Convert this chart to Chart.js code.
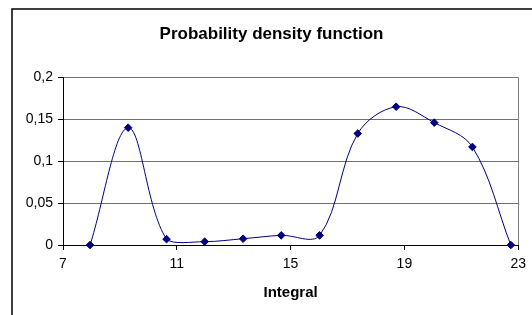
<!DOCTYPE html>
<html><head><meta charset="utf-8">
<script src="https://cdn.jsdelivr.net/npm/chart.js@4/dist/chart.umd.min.js"></script>
<style>html,body{margin:0;padding:0;background:#fff;overflow:hidden}#wrap{width:532px;height:315px;position:relative}</style>
</head><body><div id="wrap"><canvas id="c" width="532" height="315"></canvas></div>
<script>
const integralValues = [7.95, 9.29, 10.64, 11.98, 13.33, 14.67, 16.02, 17.36, 18.71, 20.05, 21.39, 22.74];
const densityValues = [0, 0.14, 0.007, 0.004, 0.0075, 0.0115, 0.0115, 0.133, 0.165, 0.146, 0.117, 0];
const xTickValues = [7, 11, 15, 19, 23];
const yTickValues = [0, 0.05, 0.1, 0.15, 0.2];
const yTickLabels = ['0', '0,05', '0,1', '0,15', '0,2'];
const chartTitle = 'Probability density function';
const xAxisTitle = 'Integral';

const FONT = "'Liberation Sans', Arial, sans-serif";
const framePlugin = {
  id: 'frame',
  beforeDraw(chart) {
    const ctx = chart.ctx;
    ctx.save();
    ctx.fillStyle = '#fff';
    ctx.fillRect(0, 0, chart.width, chart.height);
    ctx.restore();
  },
  afterDraw(chart) {
    const ctx = chart.ctx, a = chart.chartArea;
    ctx.save();
    ctx.strokeStyle = '#808080';
    ctx.lineWidth = 1;
    ctx.beginPath();
    ctx.moveTo(Math.round(a.right) + 0.5, a.top);
    ctx.lineTo(Math.round(a.right) + 0.5, a.bottom);
    ctx.stroke();
    ctx.strokeStyle = '#000';
    ctx.lineWidth = 1.5;
    ctx.beginPath();
    ctx.moveTo(12, 400);
    ctx.lineTo(12, 9);
    ctx.lineTo(600, 9);
    ctx.stroke();
    ctx.restore();
  }
};

new Chart(document.getElementById('c'), {
  type: 'scatter',
  data: {
    datasets: [{
      data: integralValues.map((x, i) => ({ x: x, y: densityValues[i] })),
      showLine: true,
      tension: 0.35,
      borderColor: '#000080',
      borderWidth: 1,
      backgroundColor: '#000080',
      pointStyle: 'rectRot',
      pointRadius: 3.8,
      pointBorderWidth: 1,
      pointBorderColor: '#000080',
      pointBackgroundColor: '#000080',
      clip: false
    }]
  },
  options: {
    responsive: false,
    animation: false,
    devicePixelRatio: 1,
    layout: { padding: { left: 24, right: 13, top: 0, bottom: 0 } },
    plugins: {
      legend: { display: false },
      tooltip: { enabled: false },
      title: {
        display: true,
        text: chartTitle,
        color: '#000',
        font: { family: FONT, size: 17, weight: 'bold' },
        padding: { top: 24, bottom: 33 }
      }
    },
    scales: {
      x: {
        type: 'linear',
        min: 7, max: 23,
        afterBuildTicks: s => { s.ticks = xTickValues.map(v => ({ value: v })); },
        afterFit: s => { s.height = 70; },
        ticks: { color: '#000', font: { family: FONT, size: 14 }, padding: 6, maxRotation: 0, autoSkip: false },
        grid: { drawOnChartArea: false, drawTicks: true, tickLength: 5, tickColor: '#000', lineWidth: 1 },
        border: { color: '#000', width: 1 },
        title: { display: true, text: xAxisTitle, color: '#000', font: { family: FONT, size: 15, weight: 'bold' }, padding: { top: 4, bottom: 13 } }
      },
      y: {
        min: 0, max: 0.2,
        afterBuildTicks: s => { s.ticks = yTickValues.map(v => ({ value: v })); },
        afterFit: s => { s.width = 39; },
        ticks: { color: '#000', font: { family: FONT, size: 14 }, padding: 5, callback: (v, i) => yTickLabels[i] },
        grid: { color: '#707070', tickColor: '#000', tickLength: 5, lineWidth: 1 },
        border: { color: '#000', width: 1 }
      }
    }
  },
  plugins: [framePlugin]
});
</script>
</body></html>
